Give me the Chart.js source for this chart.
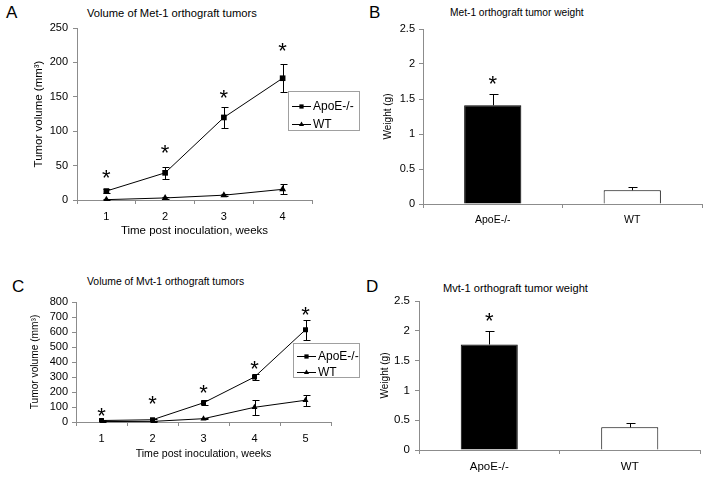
<!DOCTYPE html>
<html>
<head>
<meta charset="utf-8">
<script src="https://cdn.jsdelivr.net/npm/chart.js@4.4.0/dist/chart.umd.min.js"></script>
<style>
  html, body { margin: 0; padding: 0; background: #fff; }
  #wrap { position: relative; width: 708px; height: 481px; background: #fff; overflow: hidden; font-family: 'Liberation Sans', Arial, sans-serif; color: #000; }
  canvas { position: absolute; }
  .lbl { position: absolute; white-space: nowrap; color: #000; }
</style>
</head>
<body>
<div id="wrap">
  <div class="lbl" style="left:6px;top:3px;font-size:17px;line-height:20px;">A</div>
  <div class="lbl" style="left:87px;top:6px;font-size:11.2px;line-height:14px;">Volume of Met-1 orthograft tumors</div>
  <div class="lbl" style="left:369px;top:3px;font-size:17px;line-height:20px;">B</div>
  <div class="lbl" style="left:450px;top:6px;font-size:10.2px;line-height:14px;">Met-1 orthograft tumor weight</div>
  <div class="lbl" style="left:12px;top:277px;font-size:17px;line-height:20px;">C</div>
  <div class="lbl" style="left:87px;top:275px;font-size:10.4px;line-height:14px;">Volume of Mvt-1 orthograft tumors</div>
  <div class="lbl" style="left:366px;top:277px;font-size:17px;line-height:20px;">D</div>
  <div class="lbl" style="left:443px;top:281px;font-size:11.1px;line-height:14px;">Mvt-1 orthograft tumor weight</div>
  <canvas id="cA" width="362" height="240" style="left:0;top:0;"></canvas>
  <canvas id="cB" width="346" height="240" style="left:362px;top:0;"></canvas>
  <canvas id="cC" width="362" height="241" style="left:0;top:240px;"></canvas>
  <canvas id="cD" width="346" height="241" style="left:362px;top:240px;"></canvas>
</div>
<script>
// ---------------- DATA ----------------
const groups = ['ApoE-/-', 'WT'];

// Panel A: Met-1 volume
const weeksA = ['1', '2', '3', '4'];
const apoeA = [13, 39.5, 120, 177];
const apoeAErr = [3.5, 8.5, 15.5, 20];
const wtA = [0.5, 3, 7, 15.5];
const wtAErr = [0.5, 1, 1.5, 7.5];
const starsA = [40.5, 76, 156.5, 225];
const yTicksA = [0, 50, 100, 150, 200, 250];

// Panel B: Met-1 weight
const weightB = [1.41, 0.196];
const weightBErr = [0.155, 0.044];
const starsB = [1.79, null];
const yTicksB = [0, 0.5, 1, 1.5, 2, 2.5];

// Panel C: Mvt-1 volume
const weeksC = ['1', '2', '3', '4', '5'];
const apoeC = [10, 15, 128, 300, 615];
const apoeCErr = [5, 6, 16, 17, 68];
const wtC = [3, 4, 22, 98, 145];
const wtCErr = [2, 2, 4, 51, 37];
const starsC = [80, 157, 229, 391, 753];
const yTicksC = [0, 100, 200, 300, 400, 500, 600, 700, 800];

// Panel D: Mvt-1 weight
const weightD = [1.77, 0.38];
const weightDErr = [0.23, 0.068];
const starsD = [2.26, null];
const yTicksD = [0, 0.5, 1, 1.5, 2, 2.5];

// ---------------- STYLE HELPERS ----------------
const FONT = "'Liberation Sans', Arial, sans-serif";
Chart.defaults.font.family = FONT;
Chart.defaults.color = '#000';
const AXIS = '#8c8c8c';

const overlay = {
  id: 'overlay',
  afterDatasetsDraw(chart, args, opts) {
    const ctx = chart.ctx;
    const xs = chart.scales.x, ys = chart.scales.y;
    ctx.save();
    ctx.strokeStyle = '#000';
    ctx.lineWidth = 1;
    (opts.errors || []).forEach(e => {
      const meta = chart.getDatasetMeta(e.dataset);
      const data = chart.data.datasets[e.dataset].data;
      e.values.forEach((err, i) => {
        const v = data[i];
        const el = meta.data[i];
        const x = Math.round(el.x) + 0.5;
        const yTop = Math.round(ys.getPixelForValue(v + err)) + 0.5;
        const yBot = e.upOnly ? ys.getPixelForValue(v) : Math.round(ys.getPixelForValue(v - err)) + 0.5;
        ctx.beginPath();
        ctx.moveTo(x, yBot); ctx.lineTo(x, yTop);
        ctx.moveTo(x - e.cap, yTop); ctx.lineTo(x + e.cap + 1, yTop);
        if (!e.upOnly) { ctx.moveTo(x - e.cap, yBot); ctx.lineTo(x + e.cap + 1, yBot); }
        ctx.stroke();
      });
    });
    if (opts.stars) {
      const s = opts.stars;
      ctx.fillStyle = '#000';
      ctx.font = s.size + 'px ' + FONT;
      ctx.textAlign = 'center';
      ctx.textBaseline = 'alphabetic';
      s.values.forEach((v, i) => {
        if (v === null) return;
        const x = xs.getPixelForValue(i);
        const y = ys.getPixelForValue(v);
        ctx.fillText('*', x, y + s.size * 0.57);
      });
    }
    if (opts.legend) {
      const L = opts.legend;
      ctx.fillStyle = '#fff';
      ctx.fillRect(L.x, L.y, L.w, L.h);
      ctx.strokeStyle = '#a0a0a0';
      ctx.strokeRect(L.x + 0.5, L.y + 0.5, L.w, L.h);
      chart.data.datasets.forEach((ds, k) => {
        const cy = L.y + L.rows[k];
        ctx.strokeStyle = '#000';
        ctx.beginPath();
        ctx.moveTo(L.x + 4, Math.round(cy) + 0.5);
        ctx.lineTo(L.x + 23, Math.round(cy) + 0.5);
        ctx.stroke();
        ctx.fillStyle = '#000';
        Chart.helpers.drawPoint(ctx, { pointStyle: ds.pointStyle, radius: L.radius, rotation: 0 }, L.x + 13.5, cy + 0.5);
        ctx.font = L.font + 'px ' + FONT;
        ctx.textAlign = 'left';
        ctx.textBaseline = 'middle';
        ctx.fillText(ds.label, L.x + 25, cy + 0.5);
      });
    }
    ctx.restore();
  }
};

function setTicks(arr) {
  return scale => { scale.ticks = arr.map(v => ({ value: v })); };
}

function lineChart(id, cfg) {
  return new Chart(document.getElementById(id), {
    type: 'line',
    data: {
      labels: cfg.labels,
      datasets: [
        { label: groups[0], data: cfg.apoe, borderColor: '#000', borderWidth: 1, tension: 0,
          pointStyle: 'rect', pointRadius: cfg.rectR, pointBackgroundColor: '#000', pointBorderColor: '#000', pointBorderWidth: 0 },
        { label: groups[1], data: cfg.wt, borderColor: '#000', borderWidth: 1, tension: 0,
          pointStyle: 'triangle', pointRadius: cfg.triR, pointBackgroundColor: '#000', pointBorderColor: '#000', pointBorderWidth: 0 }
      ]
    },
    options: {
      responsive: false, animation: false, devicePixelRatio: 1,
      layout: { padding: cfg.padding },
      plugins: {
        legend: { display: false }, tooltip: { enabled: false },
        overlay: {
          errors: [
            { dataset: 0, values: cfg.apoeErr, cap: 3, upOnly: false },
            { dataset: 1, values: cfg.wtErr, cap: 3, upOnly: false }
          ],
          stars: { values: cfg.stars, size: cfg.starSize },
          legend: cfg.legend
        }
      },
      scales: {
        x: {
          type: 'category', offset: true,
          grid: { display: true, offset: true, drawOnChartArea: false, drawTicks: true, tickLength: 4, color: AXIS },
          border: { display: true, color: AXIS },
          ticks: { padding: cfg.xTickPad, font: { size: cfg.tickSize }, maxRotation: 0, autoSkip: false },
          title: { display: true, text: 'Time post inoculation, weeks', font: { size: cfg.xTitleSize }, padding: { top: 0, bottom: cfg.xTitlePad } },
          afterFit: s => { s.height = cfg.xHeight; }
        },
        y: {
          min: cfg.yMin, max: cfg.yMax,
          afterBuildTicks: setTicks(cfg.yTicks),
          grid: { display: true, drawOnChartArea: false, drawTicks: true, tickLength: 4, color: AXIS },
          border: { display: true, color: AXIS },
          ticks: { padding: cfg.yTickPad, font: { size: cfg.tickSize }, callback: v => String(v), autoSkip: false },
          title: { display: true, text: 'Tumor volume (mm³)', font: { size: cfg.yTitleSize }, padding: { top: cfg.yTitlePad, bottom: 0 } },
          afterFit: s => { s.width = cfg.yWidth; }
        }
      }
    },
    plugins: [overlay]
  });
}

function barChart(id, cfg) {
  return new Chart(document.getElementById(id), {
    type: 'bar',
    data: {
      labels: groups,
      datasets: [{
        label: 'Weight', data: cfg.values,
        backgroundColor: ['#000', '#fff'], borderColor: '#000', borderWidth: 1, borderSkipped: 'start',
        categoryPercentage: 1, barPercentage: cfg.barPct
      }]
    },
    options: {
      responsive: false, animation: false, devicePixelRatio: 1,
      layout: { padding: cfg.padding },
      plugins: {
        legend: { display: false }, tooltip: { enabled: false },
        overlay: {
          errors: [{ dataset: 0, values: cfg.errs, cap: 4, upOnly: true }],
          stars: { values: cfg.stars, size: cfg.starSize }
        }
      },
      scales: {
        x: {
          type: 'category', offset: true,
          grid: { display: true, offset: true, drawOnChartArea: false, drawTicks: true, tickLength: 4, color: AXIS },
          border: { display: true, color: AXIS },
          ticks: { padding: cfg.xTickPad, font: { size: cfg.xTickSize }, maxRotation: 0, autoSkip: false },
          afterFit: s => { s.height = cfg.xHeight; }
        },
        y: {
          min: 0, max: 2.5,
          afterBuildTicks: setTicks(cfg.yTicks),
          grid: { display: true, drawOnChartArea: false, drawTicks: true, tickLength: 4, color: AXIS },
          border: { display: true, color: AXIS },
          ticks: { padding: cfg.yTickPad, font: { size: cfg.tickSize }, callback: v => String(v), autoSkip: false },
          title: { display: true, text: 'Weight (g)', font: { size: cfg.yTitleSize }, padding: { top: cfg.yTitlePad, bottom: 0 } },
          afterFit: s => { s.width = cfg.yWidth; }
        }
      }
    },
    plugins: [overlay]
  });
}

// Panel A
lineChart('cA', {
  labels: weeksA, apoe: apoeA, wt: wtA, apoeErr: apoeAErr, wtErr: wtAErr, stars: starsA,
  yTicks: yTicksA, yMin: 0, yMax: 250,
  padding: { top: 28, right: 50, bottom: 0, left: 0 },
  yWidth: 77, xHeight: 40, tickSize: 11, xTickPad: 6, yTickPad: 5,
  xTitleSize: 11.5, xTitlePad: 2, yTitleSize: 11.5, yTitlePad: 32,
  rectR: 4, triR: 4, starSize: 22,
  legend: { x: 288, y: 91, w: 71, h: 39, rows: [15, 33], font: 12, radius: 3 }
});

// Panel B
barChart('cB', {
  values: weightB, errs: weightBErr, stars: starsB, yTicks: yTicksB, barPct: 0.41,
  padding: { top: 29, right: 6, bottom: 0, left: 0 },
  yWidth: 61, xHeight: 36, tickSize: 11, xTickSize: 10.5, xTickPad: 6, yTickPad: 4,
  yTitleSize: 10, yTitlePad: 20, starSize: 22
});

// Panel C
lineChart('cC', {
  labels: weeksC, apoe: apoeC, wt: wtC, apoeErr: apoeCErr, wtErr: wtCErr, stars: starsC,
  yTicks: yTicksC, yMin: 0, yMax: 800,
  padding: { top: 62, right: 31, bottom: 0, left: 0 },
  yWidth: 76, xHeight: 59, tickSize: 11, xTickPad: 6, yTickPad: 4,
  xTitleSize: 10.6, xTitlePad: 21, yTitleSize: 10.2, yTitlePad: 29,
  rectR: 3.5, triR: 3.5, starSize: 22,
  legend: { x: 293, y: 103, w: 66, h: 34, rows: [13, 29], font: 12, radius: 3 }
});

// Panel D
barChart('cD', {
  values: weightD, errs: weightDErr, stars: starsD, yTicks: yTicksD, barPct: 0.406,
  padding: { top: 61, right: 8, bottom: 0, left: 0 },
  yWidth: 57, xHeight: 31, tickSize: 11.5, xTickSize: 11.5, xTickPad: 6, yTickPad: 5,
  yTitleSize: 10, yTitlePad: 17, starSize: 22
});
</script>
</body>
</html>
